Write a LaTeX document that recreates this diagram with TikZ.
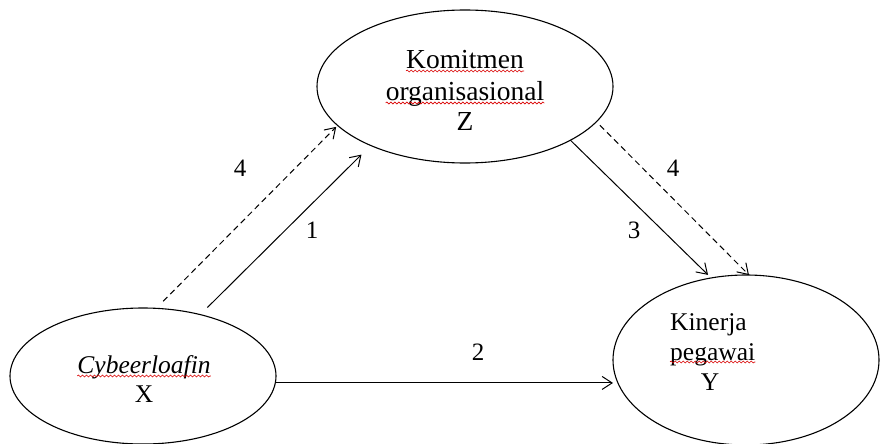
\documentclass[tikz,border=0pt]{standalone}
\usepackage{fontspec}
\setmainfont{Liberation Serif}
\usetikzlibrary{arrows.meta,shapes.geometric,decorations.pathmorphing}
\begin{document}
\begin{tikzpicture}[x=1pt,y=-1pt,
  ell/.style={draw, ellipse, line width=1.1pt, inner sep=0pt, outer sep=0pt},
  conn/.style={line width=1pt, -{Straight Barb[length=10pt,width=13pt,line width=1pt]}},
  dsh/.style={conn, dash pattern=on 6pt off 4pt},
  ztxt/.style={inner sep=0pt, anchor=base, font=\fontsize{27.5}{30}\selectfont},
  txt/.style={inner sep=0pt, anchor=base, font=\fontsize{25.5}{30}\selectfont},
  num/.style={inner sep=0pt, font=\fontsize{25}{30}\selectfont},
  wavy/.style={draw=red!85!black, line width=0.6pt, decorate, decoration={snake, amplitude=1pt, segment length=4pt}}
]
\useasboundingbox (0,0) rectangle (880,444);

% ellipses
\node[ell, minimum width=296pt, minimum height=153pt] (Z) at (465,86.5) {};
\node[ell, minimum width=266pt, minimum height=136pt] (X) at (143,376) {};
\node[ell, minimum width=266pt, minimum height=170pt] (Y) at (746,360) {};

% texts
\node[ztxt] (z1) at (465,68) {Komitmen};
\node[ztxt] (z2) at (465,100) {organisasional};
\node[ztxt] (z3) at (465,130) {Z};

\node[txt] (x1) at (144,373) {\textit{Cybeerloafin}};
\node[txt] (x2) at (144,402) {X};

\node[txt, anchor=base west] (y1) at (670,330) {Kinerja};
\node[txt, anchor=base west] (y2) at (670,360) {pegawai};
\node[txt] (y3) at (710,390) {Y};

% spell-check underlines
\draw[wavy] ([yshift=-3pt]z1.base west) -- ([yshift=-3pt]z1.base east);
\draw[wavy] ([yshift=-3pt]z2.base west) -- ([yshift=-3pt]z2.base east);
\draw[wavy] ([yshift=-3pt]x1.base west) -- ([yshift=-3pt]x1.base east);
\draw[wavy] ([yshift=-2pt]y2.base west) -- ([yshift=-2pt]y2.base east);

% connectors
\draw[conn, shorten <=10pt, shorten >=13pt] (X.47.4) -- (Z.212.4);
\draw[dsh, shorten <=10pt, shorten >=2pt] (X.79.7) -- (Z.197.5);
\draw[conn, shorten >=4.4pt] (Z.333) -- (Y.113.9);
\draw[dsh, shorten <=5pt] (Z.345.1) -- (Y.88.6);
\draw[conn] (X.357.4) -- (X.357.4 -| Y.west);

% labels
\node[num] (l4a) at (240,168) {4};
\node[num] (l1) at (312,230) {1};
\node[num] (l4b) at (673,168) {4};
\node[num] (l3) at (634,230) {3};
\node[num] (l2) at (478,352) {2};
\end{tikzpicture}
\end{document}
